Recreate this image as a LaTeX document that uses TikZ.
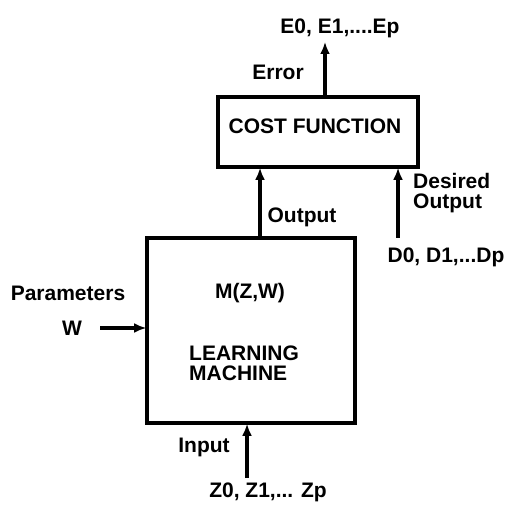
\documentclass[tikz,border=0pt]{standalone}
\usepackage{fontspec}
\setmainfont{Liberation Sans}
\usetikzlibrary{arrows.meta}
\begin{document}
\begin{tikzpicture}[x=1pt,y=-1pt,
  lbl/.style={font=\fontsize{21}{20}\selectfont\bfseries, inner sep=0pt},
  blk/.style={draw, line width=3.6pt, inner sep=0pt},
  arr/.style={line width=3.6pt, -{Latex[length=12pt,width=10pt]}, shorten >=-1pt}]
\useasboundingbox (0,0) rectangle (506,505);
% boxes
\node[blk, minimum width=200pt, minimum height=70pt] (cost) at (318,132) {};
\node[lbl] (costt) at (315,126) {COST FUNCTION};
\node[blk, minimum width=208pt, minimum height=185pt] (lm) at (251,330.5) {};
\node[lbl] (mzw) at (250,293) {M(Z,W)};
\node[lbl, align=left, anchor=west] (lmt) at (189,363) {LEARNING\\MACHINE};
% labels
\node[lbl] (elab) at (340,28) {E0, E1,....Ep};
\node[lbl] (err) at (278,72) {Error};
\node[lbl] (out) at (302,217) {Output};
\node[lbl, align=left, anchor=west] (des) at (413,193) {Desired\\Output};
\node[lbl] (dlab) at (446,257) {D0, D1,...Dp};
\node[lbl] (par) at (68,293) {Parameters};
\node[lbl] (w) at (72,328) {W};
\node[lbl] (inp) at (204,447) {Input};
\node[lbl] (zlab) at (268,492) {Z0, Z1,... Zp};
% coordinates for free ends
\coordinate (etop) at (325,43);
\coordinate (dbot) at (398,238);
\coordinate (wleft) at (100,328);
\coordinate (ibot) at (247,478);
\coordinate (ox) at (260,0);
% connectors
\draw[arr] (etop |- cost.north) -- (etop);
\draw[arr] (ox |- lm.north) -- (ox |- cost.south);
\draw[arr] (dbot) -- (dbot |- cost.south);
\draw[arr] (wleft) -- (wleft -| lm.west);
\draw[arr] (ibot) -- (ibot |- lm.south);
\end{tikzpicture}
\end{document}
